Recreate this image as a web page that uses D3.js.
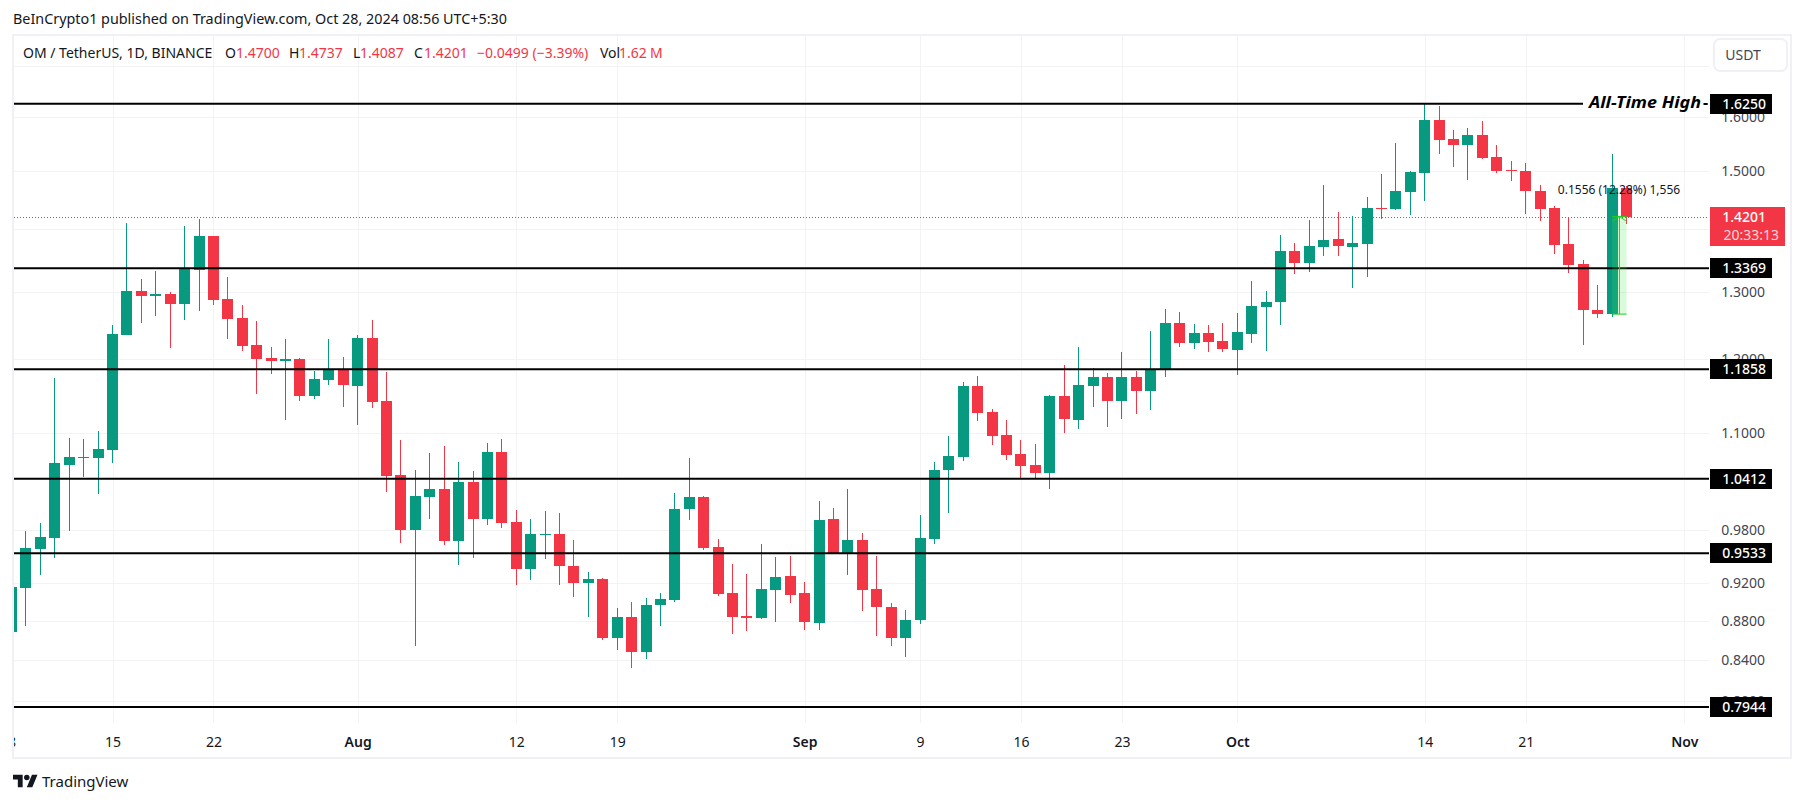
<!DOCTYPE html>
<html>
<head>
<meta charset="utf-8">
<title>OM / TetherUS</title>
<script src="https://cdn.jsdelivr.net/npm/d3@7"></script>
<style>
	html,body{margin:0;padding:0;background:#fff;overflow:hidden}
	text{font-family:"Noto Sans",sans-serif}
</style>
</head>
<body>
<div id="chart"></div>
<script>
// daily candles, first one is 2024-07-08
var startDate="2024-07-08"
var opens=[0.8685,0.9150,0.9583,0.9709,1.0587,1.0675,1.0675,1.0777,1.2351,1.3012,1.2935,1.2966,1.2813,1.3340,1.3888,1.2889,1.2602,1.2205,1.2018,1.1976,1.2004,1.1489,1.1709,1.1849,
	1.1626,1.2307,1.1421,1.0462,0.9801,1.0192,1.0289,0.9675,1.0375,0.9930,1.0751,0.9894,0.9358,0.9743,0.9755,0.9392,0.9204,0.9248,0.8624,0.8841,0.8482,0.8968,0.9021,1.0048,1.0192,0.9606,0.9096,0.8852,0.8831,0.9128,0.9281,
	0.9096,0.8779,0.9930,0.9527,0.9686,0.9139,0.8947,0.8624,0.8810,0.9698,1.0524,1.0688,1.1626,1.1273,1.0970,1.0726,1.0587,1.0487,1.1489,1.1167,1.1626,1.1751,1.1421,1.1751,1.1557,1.1849,1.2528,1.2234,1.2380,1.2263,
	1.2133,1.2365,1.2768,1.2843,1.3644,1.3451,1.3709,1.3839,1.3709,1.3758,1.4358,1.4341,1.4633,1.4967,1.5937,1.5582,1.5472,1.5656,1.5253,1.5020,1.5002,1.4651,1.4358,1.3758,1.3435,1.2722,1.2662,1.4700]
var highs=[0.9161,0.9789,0.9883,1.1737,1.0931,1.0918,1.1022,1.2498,1.4105,1.3199,1.3324,1.2997,1.4054,1.4172,1.3888,1.3230,1.2798,1.2557,1.2176,1.2293,1.2018,1.1835,1.2293,1.2033,
	1.2351,1.2572,1.1821,1.0905,1.0524,1.0739,1.0828,1.0625,1.0512,1.0866,1.0918,1.0036,0.9930,1.0024,1.0000,0.9686,0.9325,0.9259,0.8936,0.9000,0.9042,0.9096,1.0241,1.0675,1.0204,0.9697,0.9414,0.9303,0.9640,0.9493,0.9504,
	0.9215,1.0144,1.0060,1.0289,0.9766,0.9504,0.8989,0.8915,0.9977,1.0625,1.0957,1.1681,1.1765,1.1313,1.1167,1.0905,1.0853,1.1503,1.1919,1.2176,1.1877,1.1807,1.2104,1.1835,1.2409,1.2737,1.2692,1.2513,1.2498,1.2528,
	1.2677,1.3167,1.3012,1.3905,1.3774,1.4155,1.4755,1.4290,1.4222,1.4547,1.4949,1.5508,1.5002,1.6250,1.6204,1.5749,1.5787,1.5918,1.5472,1.5181,1.5145,1.4755,1.4392,1.4189,1.3499,1.3105,1.5307,1.4737]
var lows=[0.8685,0.8748,0.9292,0.9482,0.9789,1.0437,1.0229,1.0612,1.2351,1.2528,1.2632,1.2162,1.2572,1.2707,1.2798,1.2293,1.2119,1.1517,1.1793,1.1167,1.1421,1.1448,1.1640,1.1340,
	1.1101,1.1327,1.0253,0.9652,0.8542,0.9930,0.9629,0.9403,0.9482,0.9859,0.9824,0.9182,0.9237,0.9470,0.9182,0.9053,0.8841,0.8603,0.8502,0.8323,0.8412,0.8748,0.9000,0.9918,0.9572,0.9064,0.8665,0.8696,0.8820,0.8789,0.8989,
	0.8706,0.8706,0.9527,0.9292,0.8904,0.8644,0.8542,0.8432,0.8768,0.9640,1.0000,1.0637,1.1154,1.0841,1.0650,1.0412,1.0412,1.0289,1.0996,1.1048,1.1340,1.1074,1.1180,1.1246,1.1300,1.1751,1.2176,1.2147,1.2104,1.2104,
	1.1779,1.2234,1.2119,1.2498,1.3277,1.3308,1.3563,1.3563,1.3059,1.3230,1.4172,1.4324,1.4239,1.4478,1.5308,1.5073,1.4843,1.5217,1.4967,1.4825,1.4256,1.4138,1.3595,1.3292,1.2205,1.2602,1.2617,1.4087]
var closes=[0.9161,0.9595,0.9720,1.0612,1.0688,1.0688,1.0790,1.2365,1.3012,1.2935,1.2966,1.2813,1.3356,1.3888,1.2874,1.2587,1.2191,1.2004,1.1976,1.2004,1.1489,1.1723,1.1849,1.1640,
	1.2307,1.1408,1.0449,0.9801,1.0204,1.0289,0.9675,1.0375,0.9930,1.0751,0.9883,0.9358,0.9755,0.9755,0.9392,0.9204,0.9248,0.8624,0.8841,0.8482,0.8968,0.9032,1.0048,1.0192,0.9595,0.9085,0.8841,0.8831,0.9139,0.9270,0.9075,
	0.8789,0.9918,0.9527,0.9686,0.9128,0.8947,0.8624,0.8810,0.9709,1.0524,1.0701,1.1626,1.1260,1.0957,1.0713,1.0574,1.0487,1.1489,1.1180,1.1640,1.1751,1.1421,1.1751,1.1557,1.1863,1.2528,1.2234,1.2380,1.2249,1.2147,
	1.2395,1.2783,1.2843,1.3644,1.3451,1.3725,1.3823,1.3725,1.3774,1.4358,1.4341,1.4651,1.4984,1.5937,1.5564,1.5472,1.5656,1.5235,1.5002,1.5002,1.4651,1.4341,1.3741,1.3419,1.2722,1.2662,1.4703,1.4201]

// price axis, 1.7 and 1.4 have a grid line but no visible label
var priceTicks=[1.6,1.5,1.3,1.2,1.1,0.98,0.92,0.88,0.84,0.8]
var gridOnly=[1.7,1.4]

// time axis
var timeTicks=["2024-07-08","2024-07-15","2024-07-22","2024-08-01","2024-08-12","2024-08-19","2024-09-01","2024-09-09","2024-09-16","2024-09-23","2024-10-01","2024-10-14","2024-10-21","2024-11-01"]
var timeLabels=["8","15","22","Aug","12","19","Sep","9","16","23","Oct","14","21","Nov"]
var monthLabels=["Aug","Sep","Oct","Nov"]

// drawn support/resistance levels
var levels=[1.625,1.3369,1.1858,1.0412,0.9533,0.7944]
var levelLabels=["1.6250","1.3369","1.1858","1.0412","0.9533","0.7944"]

var lastClose=1.4201
var measureLow=1.2659
var measureHigh=1.4215
var measureDates=["2024-10-27","2024-10-28"]

var width=1804, height=803
var plot={left:14, right:1709, top:36, bottom:723}
var green="#089981", red="#f23645", frame="#f0f0f6", grid="#f2f3f5", axisText="#434651", dark="#131722"

var svg=d3.select("#chart").append("svg")
	.attr("width",width)
	.attr("height",height)
	.style("display","block")

var parse=d3.utcParse("%Y-%m-%d")

var xScale=d3.scaleUtc()
	.domain([parse("2024-07-15"),parse("2024-11-01")])
	.range([112.5,1684.3])

var yScale=d3.scaleLog()
	.domain([1.6,0.8])
	.range([116.7,701])

var candles=opens.map(function(o,i){
	return {date:d3.utcDay.offset(parse(startDate),i),o:o,h:highs[i],l:lows[i],c:closes[i]}
})

svg.append("defs").append("clipPath").attr("id","plotClip").append("rect")
	.attr("x",plot.left).attr("y",plot.top)
	.attr("width",plot.right-plot.left).attr("height",plot.bottom-plot.top)

// grid
var gridG=svg.append("g").attr("shape-rendering","crispEdges").attr("clip-path","url(#plotClip)")
gridG.selectAll(".hgrid").data(priceTicks.concat(gridOnly)).enter().append("line")
	.attr("x1",plot.left).attr("x2",plot.right)
	.attr("y1",function(d){return Math.round(yScale(d))})
	.attr("y2",function(d){return Math.round(yScale(d))})
	.attr("stroke",grid)
gridG.selectAll(".vgrid").data(timeTicks).enter().append("line")
	.attr("y1",plot.top).attr("y2",plot.bottom)
	.attr("x1",function(d){return Math.round(xScale(parse(d)))})
	.attr("x2",function(d){return Math.round(xScale(parse(d)))})
	.attr("stroke",grid)

// frame
svg.append("rect")
	.attr("x",13).attr("y",35).attr("width",1778).attr("height",723)
	.attr("fill","none").attr("stroke",frame).attr("stroke-width",2)

// last price line
svg.append("line")
	.attr("x1",plot.left).attr("x2",plot.right)
	.attr("y1",Math.round(yScale(lastClose))+0.5).attr("y2",Math.round(yScale(lastClose))+0.5)
	.attr("stroke",red).attr("stroke-dasharray","1 2")

// candles
var candleG=svg.append("g").attr("clip-path","url(#plotClip)").attr("shape-rendering","crispEdges")
var bar=candleG.selectAll("g").data(candles).enter().append("g")
	.attr("fill",function(d){return d.c>=d.o?green:red})
bar.append("rect")
	.attr("x",function(d){return Math.round(xScale(d.date)-5.5)+5})
	.attr("width",1)
	.attr("y",function(d){return Math.round(yScale(d.h))})
	.attr("height",function(d){return Math.round(yScale(d.l))-Math.round(yScale(d.h))})
bar.append("rect")
	.attr("x",function(d){return Math.round(xScale(d.date)-5.5)})
	.attr("width",11)
	.attr("y",function(d){return Math.round(yScale(Math.max(d.o,d.c)))})
	.attr("height",function(d){return Math.max(1,Math.round(yScale(Math.min(d.o,d.c)))-Math.round(yScale(Math.max(d.o,d.c))))})

// level lines, the top one stops at the note
svg.selectAll(".level").data(levels).enter().append("line")
	.attr("x1",plot.left)
	.attr("x2",function(d,i){return i==0?1583:plot.right})
	.attr("y1",function(d){return yScale(d)})
	.attr("y2",function(d){return yScale(d)})
	.attr("stroke","#000").attr("stroke-width",2)

svg.append("text")
	.attr("x",1589).attr("y",yScale(levels[0])+4)
	.attr("font-size",16).attr("font-weight",700).attr("font-style","italic").attr("fill","#000")
	.attr("textLength",112).attr("lengthAdjust","spacingAndGlyphs")
	.text("All-Time High")
svg.append("text")
	.attr("x",1703).attr("y",yScale(levels[0])+4)
	.attr("font-size",16).attr("font-weight",700).attr("fill","#000")
	.text("-")

// measure tool
var mx0=xScale(parse(measureDates[0])), mx1=xScale(parse(measureDates[1])), mMid=(mx0+mx1)/2
var my0=yScale(measureLow), my1=yScale(measureHigh)
var m=svg.append("g")
var mGreen="#22cc22"
m.append("rect").attr("x",mx0).attr("y",my1).attr("width",mx1-mx0).attr("height",my0-my1)
	.attr("fill","#4ce64c").attr("fill-opacity",0.2)
m.append("line").attr("x1",mx0).attr("x2",mx1).attr("y1",my1).attr("y2",my1).attr("stroke",mGreen)
m.append("line").attr("x1",mx0).attr("x2",mx1).attr("y1",my0).attr("y2",my0).attr("stroke",mGreen)
m.append("line").attr("x1",mMid).attr("x2",mMid).attr("y1",my1).attr("y2",my0).attr("stroke",mGreen)
m.append("path")
	.attr("d",d3.line()([[mx0,my1+5],[mMid,my1],[mx1,my1+5]]))
	.attr("fill","none").attr("stroke",mGreen)
m.append("text").attr("x",1619).attr("y",194).attr("text-anchor","middle")
	.attr("font-size",12).attr("fill",dark)
	.text("0.1556 (12.28%) 1,556")

// price axis
var yAxis=d3.axisRight(yScale)
	.tickValues(priceTicks)
	.tickFormat(d3.format(".4f"))
	.tickSize(0)
var yG=svg.append("g")
	.attr("transform","translate(1765,0)")
	.call(yAxis)
yG.select(".domain").remove()
yG.selectAll("text")
	.attr("x",0).attr("text-anchor","end")
	.attr("font-size",14).attr("fill",axisText)
	.style("font-family",'"Noto Sans",sans-serif')

// time axis
var xAxis=d3.axisBottom(xScale)
	.tickValues(timeTicks.map(parse))
	.tickFormat(function(d,i){return timeLabels[i]})
	.tickSize(0)
var xG=svg.append("g")
	.attr("transform","translate(0,"+plot.bottom+")")
	.attr("clip-path","url(#xClip)")
	.call(xAxis)
svg.select("defs").append("clipPath").attr("id","xClip").append("rect")
	.attr("x",14).attr("y",0).attr("width",1690).attr("height",34)
xG.select(".domain").remove()
xG.selectAll("text")
	.attr("y",24).attr("dy",0)
	.attr("font-size",14).attr("fill",dark)
	.attr("font-weight",function(d,i){return monthLabels.indexOf(timeLabels[i])>=0?600:400})
	.style("font-family",'"Noto Sans",sans-serif')

// level tags on the price axis
var tag=svg.selectAll(".tag").data(levels).enter().append("g")
tag.append("rect")
	.attr("x",1710).attr("width",62).attr("height",20)
	.attr("y",function(d){return Math.round(yScale(d))-10})
	.attr("fill","#000")
tag.append("text")
	.attr("x",1766).attr("text-anchor","end")
	.attr("y",function(d){return Math.round(yScale(d))+5})
	.attr("font-size",14).attr("font-weight",500).attr("fill","#fff")
	.text(function(d,i){return levelLabels[i]})

// last price tag with the countdown
var ly=Math.round(yScale(lastClose))
svg.append("rect").attr("x",1710).attr("y",ly-10).attr("width",75).attr("height",39).attr("fill",red)
svg.append("text").attr("x",1766).attr("y",ly+5).attr("text-anchor","end")
	.attr("font-size",14).attr("font-weight",500).attr("fill","#fff")
	.text("1.4201")
svg.append("text").attr("x",1779).attr("y",ly+23).attr("text-anchor","end")
	.attr("font-size",14).attr("fill","#fff").attr("fill-opacity",0.8)
	.text("20:33:13")

// USDT button
svg.append("rect").attr("x",1714).attr("y",39).attr("width",73).attr("height",32).attr("rx",6)
	.attr("fill","#fff").attr("stroke",frame).attr("stroke-width",2)
svg.append("text").attr("x",1743).attr("y",60).attr("text-anchor","middle")
	.attr("font-size",14).attr("fill",axisText).text("USDT")

// header
svg.append("text").attr("x",13).attr("y",24)
	.attr("font-size",14).attr("fill",dark)
	.attr("textLength",494).attr("lengthAdjust","spacingAndGlyphs")
	.text("BeInCrypto1 published on TradingView.com, Oct 28, 2024 08:56 UTC+5:30")

// legend line: text, x, colour
var legendText=["OM / TetherUS, 1D, BINANCE","O","1.4700","H","1.4737","L","1.4087","C","1.4201","\u22120.0499 (\u22123.39%)","Vol","1.62","M"]
var legendX=[23,225,236,289,299,353,360,414,424,477,600,619,650]
var legendRed=[false,false,true,false,true,false,true,false,true,true,false,true,true]
svg.selectAll(".legend").data(legendText).enter().append("text")
	.attr("x",function(d,i){return legendX[i]})
	.attr("y",58)
	.attr("font-size",14)
	.attr("fill",function(d,i){return legendRed[i]?red:dark})
	.text(function(d){return d})

// footer logo
var logo=svg.append("g").attr("transform","translate(13,772) scale(0.69)").attr("fill",dark)
logo.append("path").attr("d","M14 22H7V11H0V4h14v18zM28 22h-8l7.5-18h8L28 22z")
logo.append("circle").attr("cx",20).attr("cy",8).attr("r",4)
svg.append("text").attr("x",42).attr("y",787)
	.attr("font-size",15).attr("fill",dark)
	.text("TradingView")
</script>
</body>
</html>
